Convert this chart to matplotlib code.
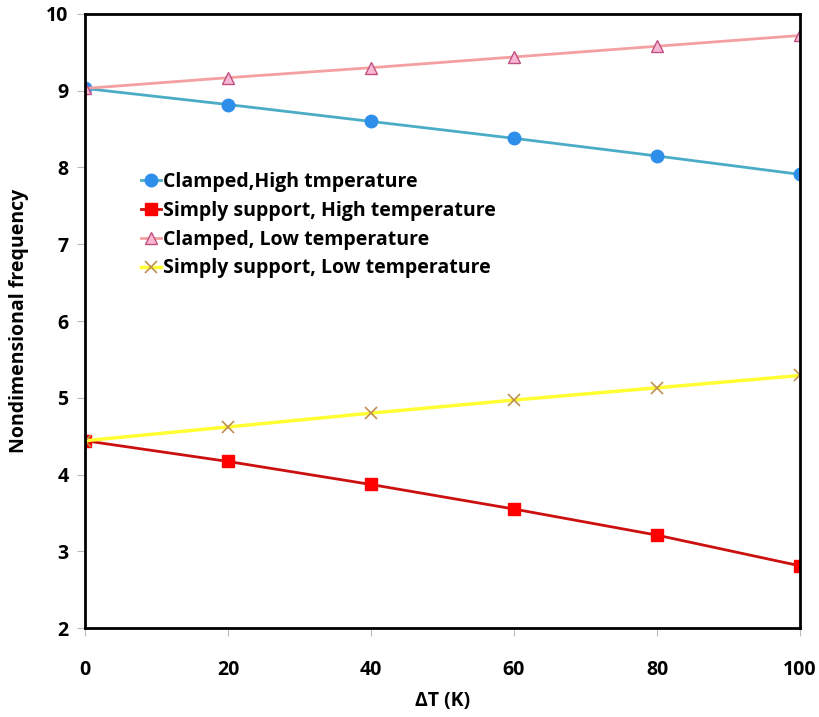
import matplotlib.pyplot as plt

dT = [0, 20, 40, 60, 80, 100]
clamped_high = [9.03, 8.82, 8.60, 8.38, 8.15, 7.91]
simply_high = [4.44, 4.17, 3.87, 3.55, 3.21, 2.81]
clamped_low = [9.03, 9.17, 9.30, 9.44, 9.58, 9.72]
simply_low = [4.44, 4.62, 4.80, 4.97, 5.13, 5.29]

labels = ["Clamped,High tmperature", "Simply support, High temperature",
          "Clamped, Low temperature", "Simply support, Low temperature"]

plt.rcParams['font.family'] = ['Open Sans', 'DejaVu Sans']
plt.rcParams['font.weight'] = 'bold'

fig = plt.figure(figsize=(8.2, 7.17), dpi=100)
ax = fig.add_axes([0.1037, 0.1241, 0.872, 0.8564])

ax.plot(dT, clamped_high, color="#4BACC6", lw=2, marker="o", ms=9,
        mfc="#2E8FEA", mec="#2E8FEA", label=labels[0])
ax.plot(dT, simply_high, color="#CC1010", lw=2, marker="s", ms=8,
        mfc="#FF0000", mec="#FF0000", label=labels[1])
ax.plot(dT, clamped_low, color="#F4A0A0", lw=2, marker="^", ms=9,
        mfc="#F9B8D4", mec="#C05080", label=labels[2])
ax.plot(dT, simply_low, color="#FFFF33", lw=2.5, marker="x", ms=9,
        mec="#C09050", mew=1.2, label=labels[3])

ax.set_xlim(0, 100)
ax.set_ylim(2, 10)
ax.set_xticks(dT)
ax.set_yticks(range(2, 11))
ax.tick_params(axis="x", direction="out", length=6, color="#BBBBBB", pad=17, labelsize=14)
ax.tick_params(axis="y", direction="out", length=6, color="#BBBBBB", pad=6, labelsize=14)
for s in ax.spines.values():
    s.set_linewidth(2)
    s.set_color("black")

ax.set_xlabel("ΔT (K)", fontsize=14, fontweight="bold", labelpad=8)
ax.set_ylabel("Nondimensional frequency", fontsize=14, fontweight="bold", labelpad=12)

ax.legend(loc="upper left", bbox_to_anchor=(0.068, 0.755), frameon=False,
          handlelength=1.0, handletextpad=0.1, borderaxespad=0,
          labelspacing=0.45, prop={"weight": "bold", "size": 14})

fig.savefig("out.png", dpi=100)
